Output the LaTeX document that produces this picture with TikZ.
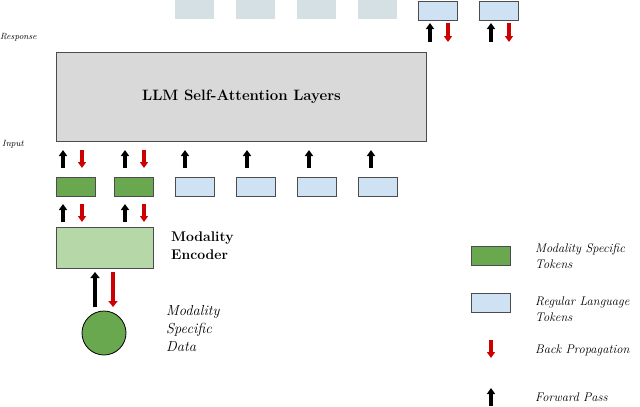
\documentclass[tikz,border=0pt]{standalone}
\usetikzlibrary{arrows.meta}
\definecolor{tokblue}{HTML}{CFE2F3}
\definecolor{tokfade}{HTML}{D5E0E5}
\definecolor{tokgreen}{HTML}{6AA84F}
\definecolor{encgreen}{HTML}{B6D7A8}
\definecolor{llmgray}{HTML}{D9D9D9}
\definecolor{bpred}{HTML}{CC0000}
\begin{document}
\begin{tikzpicture}[x=1pt,y=-1pt,
    token/.style={draw=black!70,line width=.8pt,minimum width=39pt,minimum height=19pt,inner sep=0pt,anchor=north west},
    regular/.style={token,fill=tokblue},
    modal/.style={token,fill=tokgreen},
    faded/.style={token,draw=none,fill=tokfade},
    fwd/.style={line width=3.2pt,-{Triangle[width=8pt,length=6pt]}},
    bwd/.style={fwd,bpred},
    note/.style={font=\fontsize{12.5}{16}\selectfont\itshape,align=left,anchor=west,inner sep=0pt},
    ]
    \useasboundingbox (0,0) rectangle (640,407);
    % Output tokens
    \foreach \x [count=\i] in {175,236,297,358}
        \node[faded] (f\i) at (\x,0) {};
    \node[regular] (r1) at (418,1) {};
    \node[regular] (r2) at (479,1) {};
    \foreach \x in {430,491}{
        \draw[fwd] (\x,42) -- (\x,23);
        \draw[bwd] (\x+18,23) -- (\x+18,42);
    }
    \node[note,font=\fontsize{9}{11}\selectfont\itshape] (resp) at (0,37) {Response};
    % LLM
    \node[draw=black!70,line width=1pt,fill=llmgray,minimum width=370pt,minimum height=89pt,
          anchor=north west,font=\fontsize{15}{17}\selectfont\bfseries] (llm) at (56,52) {LLM Self-Attention Layers};
    \node[note,font=\fontsize{9}{11}\selectfont\itshape] (inp) at (2,144) {Input};
    % Input tokens
    \node[modal] (m1) at (56,177) {};
    \node[modal] (m2) at (114,177) {};
    \foreach \x [count=\i] in {175,236,297,358}
        \node[regular] (t\i) at (\x,177) {};
    \foreach \x in {63,125}{
        \draw[fwd] (\x,168) -- (\x,150);
        \draw[bwd] (\x+19,150) -- (\x+19,168);
        \draw[fwd] (\x,222) -- (\x,204);
        \draw[bwd] (\x+19,204) -- (\x+19,222);
    }
    \foreach \x in {185,247,309,371}
        \draw[fwd] (\x,168) -- (\x,150);
    % Encoder
    \node[draw=black!70,line width=.8pt,fill=encgreen,minimum width=97pt,minimum height=41pt,
          anchor=north west] (enc) at (56,227) {};
    \node[note,font=\fontsize{14}{18}\selectfont\bfseries] (enclbl) at (171,246) {Modality\\Encoder};
    \draw[line width=4pt,-{Triangle[width=9pt,length=6pt]}] (95,307) -- (95,272);
    \draw[bwd,line width=4pt,-{Triangle[width=9pt,length=6pt]}] (113,272) -- (113,307);
    \node[circle,draw,line width=.8pt,fill=tokgreen,minimum size=44pt,inner sep=0pt] (data) at (104,333) {};
    \node[note,font=\fontsize{14.5}{18}\selectfont\itshape] (datalbl) at (166,329) {Modality\\Specific\\Data};
    % Legend
    \node[modal] (lm) at (471,246) {};
    \node[note] (lml) at (535,256) {Modality Specific\\Tokens};
    \node[regular] (lr) at (471,293) {};
    \node[note] (lrl) at (535,309) {Regular Language\\Tokens};
    \draw[bwd] (491,340) -- (491,358);
    \node[note] (lb) at (535,350) {Back Propagation};
    \draw[fwd] (491,406) -- (491,388);
    \node[note] (lf) at (535,397) {Forward Pass};
\end{tikzpicture}
\end{document}
